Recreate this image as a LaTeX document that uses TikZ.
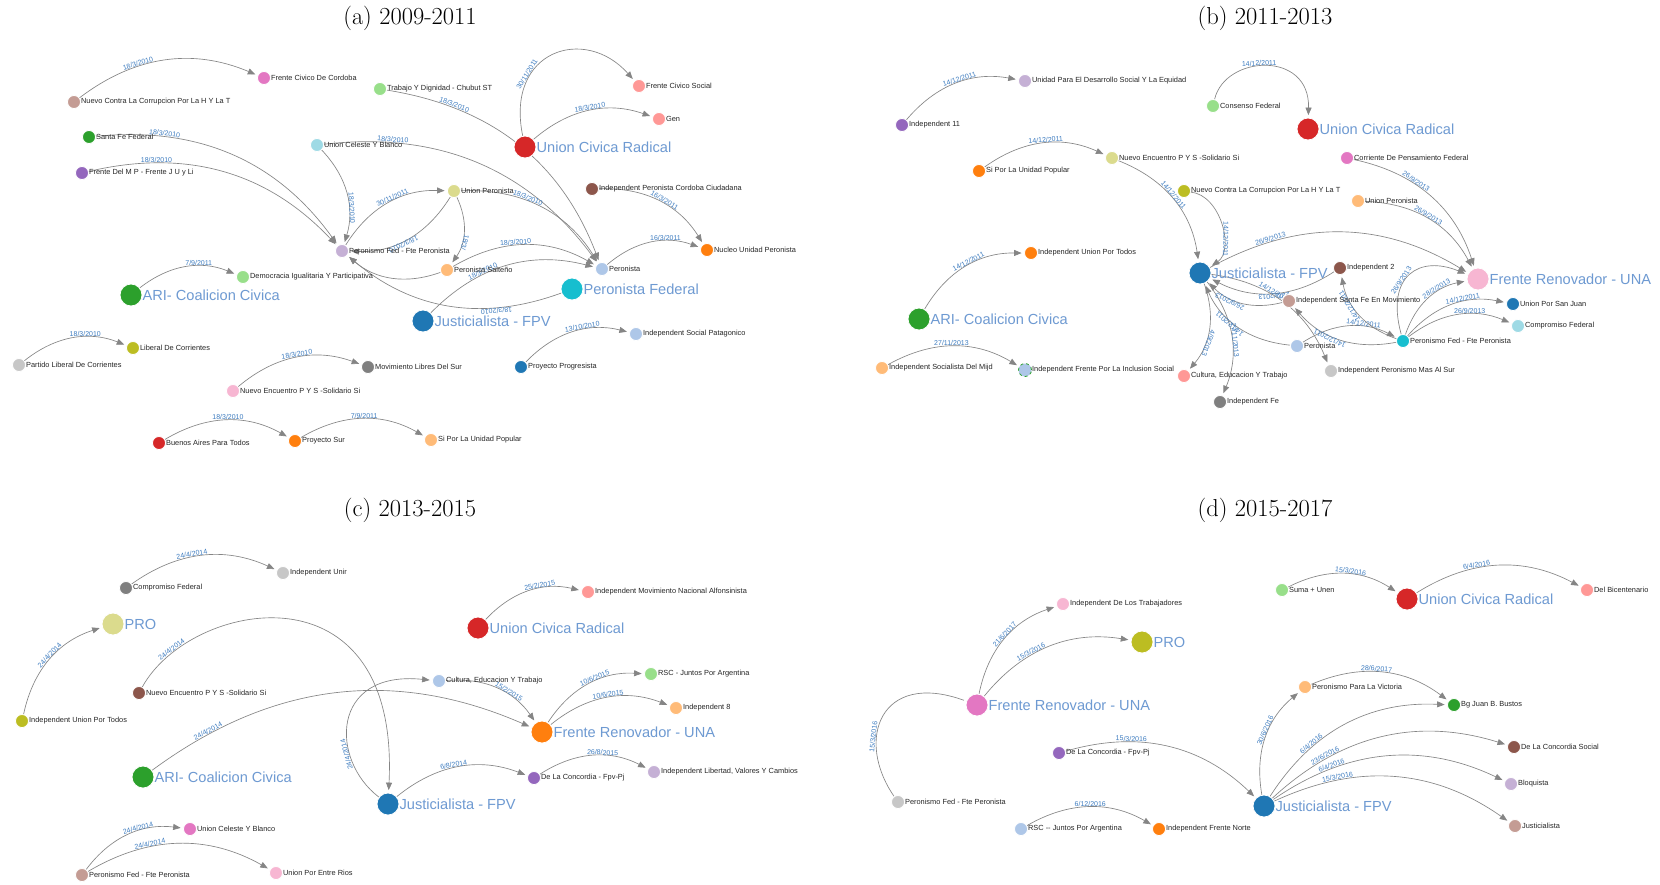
\documentclass[tikz,border=0pt]{standalone}
\usepackage{fontspec}
\newfontfamily\arial{Liberation Sans}
\usetikzlibrary{arrows.meta,calc}
\definecolor{c1}{HTML}{1F77B4}\definecolor{c2}{HTML}{AEC7E8}
\definecolor{c3}{HTML}{FF7F0E}\definecolor{c4}{HTML}{FFBB78}
\definecolor{c5}{HTML}{2CA02C}\definecolor{c6}{HTML}{98DF8A}
\definecolor{c7}{HTML}{D62728}\definecolor{c8}{HTML}{FF9896}
\definecolor{c9}{HTML}{9467BD}\definecolor{c10}{HTML}{C5B0D5}
\definecolor{c11}{HTML}{8C564B}\definecolor{c12}{HTML}{C49C94}
\definecolor{c13}{HTML}{E377C2}\definecolor{c14}{HTML}{F7B6D2}
\definecolor{c15}{HTML}{7F7F7F}\definecolor{c16}{HTML}{C7C7C7}
\definecolor{c17}{HTML}{BCBD22}\definecolor{c18}{HTML}{DBDB8D}
\definecolor{c19}{HTML}{17BECF}\definecolor{c20}{HTML}{9EDAE5}
\definecolor{bigtxt}{HTML}{6E9AD2}
\definecolor{datecol}{HTML}{3D7CC0}
\pgfdeclarelayer{back}
\pgfdeclarelayer{bgl}
\pgfsetlayers{back,bgl,main}
\tikzset{
  nd/.style={circle,fill=#1,draw=white,line width=0.8pt,minimum size=13pt,inner sep=0pt,label distance=2.5pt},
  bg/.style={circle,fill=#1,draw=white,line width=0.8pt,minimum size=22pt,inner sep=0pt,label distance=6pt},
  nlab/.style={font=\arial\fontsize{7.4}{8}\selectfont,text=black!85,inner sep=0pt},
  blab/.style={font=\arial\fontsize{14.6}{16}\selectfont,text=bigtxt,inner sep=0pt},
  lnk/.style={draw=black!48,line width=0.65pt,-{Triangle[length=7.5pt,width=6pt]},shorten >=2.5pt},
  elbl/.style={font=\arial\fontsize{7}{8}\selectfont,text=datecol,sloped,allow upside down,anchor=south,inner sep=0.3pt},
  ttl/.style={font=\fontsize{24.5}{28}\selectfont}
}
\newcommand\N[4]{\node[nd=#2,label={[nlab]0:{#4}}] (#1) at (#3) {};}
\newcommand\B[4]{\node[bg=#2,label={[blab]0:{#4}}] (#1) at (#3) {};}
\newcommand\E[4][bend left=30]{\path[lnk] let \p1=(#2.center),\p2=(#3.center),\n1={veclen(\x2-\x1,\y2-\y1)} in (#2) to[#1] node[elbl,pos={min(0.65,64/(1.047*\n1-17))}]{#4} (#3);}
\newcommand\EC[7][]{\path[lnk,#1] (#2) .. controls (#3) and (#4) .. (#5) node[elbl,pos=#7]{#6};}
\begin{document}
\begin{tikzpicture}[x=1pt,y=1pt]
\useasboundingbox (0,0) rectangle (1660,-884);
\begin{pgfonlayer}{back}
\fill[white] (0,0) rectangle (1660,-884);
\end{pgfonlayer}
% titles
\node[ttl] (ta) at (410,-18) {(a) 2009-2011};
\node[ttl] (tb) at (1265,-18) {(b) 2011-2013};
\node[ttl] (tc) at (410,-510) {(c) 2013-2015};
\node[ttl] (td) at (1265,-510) {(d) 2015-2017};
% ---------------- (a)
\N{aFCC}{c13}{264,-78}{Frente Civico De Cordoba}
\N{aNC}{c12}{74,-102}{Nuevo Contra La Corrupcion Por La H Y La T}
\N{aTrab}{c6}{380,-89}{Trabajo Y Dignidad - Chubut ST}
\N{aSFF}{c5}{89,-137}{Santa Fe Federal}
\N{aFMP}{c9}{82,-173}{Frente Del M P - Frente J U y Li}
\N{aUCB}{c20}{317,-145}{Union Celeste Y Blanco}
\N{aPF}{c10}{342,-251}{Peronismo Fed - Fte Peronista}
\N{aFCS}{c8}{639,-86}{Frente Civico Social}
\N{aGen}{c8}{659,-119}{Gen}
\B{aUCR}{c7}{525,-147}{Union Civica Radical}
\N{aUP}{c18}{454,-191}{Union Peronista}
\N{aIPC}{c11}{592,-189}{Independent Peronista Cordoba Ciudadana}
\N{aNuc}{c3}{707,-250}{Nucleo Unidad Peronista}
\N{aPer}{c2}{602,-269}{Peronista}
\N{aDem}{c6}{243,-277}{Democracia Igualitaria Y Participativa}
\B{aARI}{c5}{131,-295}{ARI- Coalicion Civica}
\N{aLC}{c17}{133,-348}{Liberal De Corrientes}
\N{aPLC}{c16}{19,-365}{Partido Liberal De Corrientes}
\N{aMLS}{c15}{368,-367}{Movimiento Libres Del Sur}
\N{aNE}{c14}{233,-391}{Nuevo Encuentro P Y S -Solidario Si}
\N{aBA}{c7}{159,-443}{Buenos Aires Para Todos}
\N{aPS}{c3}{295,-441}{Proyecto Sur}
\N{aPSal}{c4}{447,-270}{Peronista Salteño}
\B{aPFed}{c19}{572,-289}{Peronista Federal}
\B{aJ}{c1}{423,-321}{Justicialista - FPV}
\N{aISP}{c2}{636,-334}{Independent Social Patagonico}
\N{aPP}{c1}{521,-367}{Proyecto Progresista}
\N{aSi}{c4}{431,-440}{Si Por La Unidad Popular}
% ---------------- (b)
\N{bUni}{c10}{1025,-81}{Unidad Para El Desarrollo Social Y La Equidad}
\N{bI11}{c9}{902,-125}{Independent 11}
\N{bCons}{c6}{1213,-106}{Consenso Federal}
\N{bSi}{c3}{979,-171}{Si Por La Unidad Popular}
\N{bNE}{c18}{1112,-158}{Nuevo Encuentro P Y S -Solidario Si}
\N{bNC}{c17}{1184,-191}{Nuevo Contra La Corrupcion Por La H Y La T}
\N{bIUT}{c3}{1031,-253}{Independent Union Por Todos}
\B{bJ}{c1}{1200,-273}{Justicialista - FPV}
\B{bUCR}{c7}{1308,-129}{Union Civica Radical}
\N{bCPF}{c13}{1347,-158}{Corriente De Pensamiento Federal}
\N{bUP}{c4}{1358,-201}{Union Peronista}
\B{bARI}{c5}{919,-319}{ARI- Coalicion Civica}
\N{bISM}{c4}{882,-368}{Independent Socialista Del Mijd}
\node[nd=c2,draw=c5,dashed,label={[nlab]0:{Independent Frente Por La Inclusion Social}}] (bIFI) at (1025,-370) {};
\N{bCul}{c8}{1184,-376}{Cultura, Educacion Y Trabajo}
\N{bFe}{c15}{1220,-402}{Independent Fe}
\B{bFR}{c14}{1478,-279}{Frente Renovador - UNA}
\N{bI2}{c11}{1340,-268}{Independent 2}
\N{bISF}{c12}{1289,-301}{Independent Santa Fe En Movimiento}
\N{bUSJ}{c1}{1513,-304}{Union Por San Juan}
\N{bCF}{c20}{1518,-326}{Compromiso Federal}
\N{bPer}{c2}{1297,-346}{Peronista}
\N{bPF}{c19}{1403,-341}{Peronismo Fed - Fte Peronista}
\N{bMAS}{c16}{1331,-371}{Independent Peronismo Mas Al Sur}
% ---------------- (c)
\N{cIU}{c16}{283,-573}{Independent Unir}
\N{cCF}{c15}{126,-588}{Compromiso Federal}
\B{cPRO}{c18}{113,-624}{PRO}
\N{cNE}{c11}{139,-693}{Nuevo Encuentro P Y S -Solidario Si}
\N{cIUT}{c17}{22,-721}{Independent Union Por Todos}
\B{cARI}{c5}{143,-777}{ARI- Coalicion Civica}
\B{cJ}{c1}{388,-804}{Justicialista - FPV}
\N{cUCB}{c13}{190,-829}{Union Celeste Y Blanco}
\N{cPF}{c12}{82,-875}{Peronismo Fed - Fte Peronista}
\N{cUER}{c14}{276,-873}{Union Por Entre Rios}
\B{cUCR}{c7}{478,-628}{Union Civica Radical}
\N{cIMNA}{c8}{588,-592}{Independent Movimiento Nacional Alfonsinista}
\N{cCul}{c2}{439,-681}{Cultura, Educacion Y Trabajo}
\N{cRSC}{c6}{651,-674}{RSC - Juntos Por Argentina}
\N{cI8}{c4}{676,-708}{Independent 8}
\B{cFR}{c3}{542,-732}{Frente Renovador - UNA}
\N{cCon}{c9}{534,-778}{De La Concordia - Fpv-Pj}
\N{cIL}{c10}{654,-772}{Independent Libertad, Valores Y Cambios}
% ---------------- (d)
\N{dIT}{c14}{1063,-604}{Independent De Los Trabajadores}
\B{dPRO}{c17}{1142,-642}{PRO}
\B{dFR}{c13}{977,-705}{Frente Renovador - UNA}
\N{dCon}{c9}{1059,-753}{De La Concordia - Fpv-Pj}
\N{dPF}{c16}{898,-802}{Peronismo Fed - Fte Peronista}
\N{dRSC}{c2}{1021,-829}{RSC -- Juntos Por Argentina}
\N{dIFN}{c3}{1159,-829}{Independent Frente Norte}
\N{dSuma}{c6}{1282,-590}{Suma + Unen}
\B{dUCR}{c7}{1407,-599}{Union Civica Radical}
\N{dDB}{c8}{1587,-590}{Del Bicentenario}
\N{dPPV}{c4}{1305,-687}{Peronismo Para La Victoria}
\N{dBg}{c5}{1454,-705}{Bg Juan B. Bustos}
\N{dCS}{c11}{1514,-747}{De La Concordia Social}
\N{dBlo}{c10}{1511,-784}{Bloquista}
\B{dJ}{c1}{1264,-806}{Justicialista - FPV}
\N{dJs}{c12}{1515,-826}{Justicialista}
% ================= edges
\begin{pgfonlayer}{bgl}
% (a)
\E{aNC}{aFCC}{18/3/2010}
\EC{aUCR}{505,-50}{585,-25}{aFCS}{30/11/2011}{0.3}
\E{aUCR}{aGen}{18/3/2010}
\E{aTrab}{aPer}{18/3/2010}
\E{aSFF}{aPF}{18/3/2010}
\E{aFMP}{aPF}{18/3/2010}
\E{aUCB}{aPF}{18/3/2010}
\E{aUCB}{aPer}{18/3/2010}
\E{aPF}{aUP}{30/11/2011}
\E{aUP}{aPF}{18/3/2010}
\E{aUP}{aPSal}{18/3/}
\E{aPSal}{aPF}{}
\E{aPSal}{aPer}{18/3/2010}
\E{aJ}{aPer}{18/3/2010}
\E{aPFed}{aPF}{18/3/2010}
\E{aUP}{aPer}{18/3/2010}
\E{aIPC}{aNuc}{16/3/2011}
\E{aPer}{aNuc}{16/3/2011}
\E{aARI}{aDem}{7/9/2011}
\E{aPLC}{aLC}{18/3/2010}
\E{aNE}{aMLS}{18/3/2010}
\E{aBA}{aPS}{18/3/2010}
\E{aPS}{aSi}{7/9/2011}
\E{aPP}{aISP}{13/10/2010}
% (b)
\E{bI11}{bUni}{14/12/2011}
\EC{bCons}{1225,-55}{1310,-50}{bUCR}{14/12/2011}{0.45}
\E{bSi}{bNE}{14/12/2011}
\E{bNE}{bJ}{14/12/2011}
\E[bend left=70]{bNC}{bJ}{14/12/2011}
\E{bARI}{bIUT}{14/12/2011}
\E{bISM}{bIFI}{27/11/2013}
\E{bJ}{bCul}{4/9/2013}
\E{bJ}{bFe}{27/11/2013}
\E{bJ}{bFR}{26/9/2013}
\E{bCPF}{bFR}{26/9/2013}
\E{bUP}{bFR}{26/9/2013}
\EC{bPF}{1385,-275}{1420,-255}{bFR}{26/9/2013}{0.4}
\E{bPF}{bFR}{28/2/2013}
\E{bPF}{bUSJ}{14/12/2011}
\E{bPF}{bCF}{26/9/2013}
\E{bPer}{bPF}{14/12/2011}
\E{bPF}{bI2}{14/12/2011}
\E{bPF}{bISF}{14/12/2011}
\E{bISF}{bJ}{26/9/2013}
\E{bI2}{bJ}{22/2/2013}
\E{bPer}{bJ}{14/12/2011}
\E{bJ}{bMAS}{14/12/2011}
% (c)
\E{cCF}{cIU}{24/4/2014}
\E{cIUT}{cPRO}{24/4/2014}
\EC{cNE}{190,-600}{400,-560}{cJ}{24/4/2014}{0.15}
\E{cARI}{cFR}{24/4/2014}
\EC{cJ}{330,-760}{330,-670}{cCul}{24/4/2014}{0.3}
\E{cCul}{cFR}{15/2/2015}
\E{cFR}{cRSC}{10/6/2015}
\E{cFR}{cI8}{10/6/2015}
\E{cJ}{cCon}{6/8/2014}
\E{cCon}{cIL}{26/8/2015}
\E{cUCR}{cIMNA}{25/2/2015}
\E{cPF}{cUCB}{24/4/2014}
\E{cPF}{cUER}{24/4/2014}
% (d)
\E{dFR}{dIT}{21/6/2017}
\E{dFR}{dPRO}{15/3/2016}
\EC[-]{dPF}{855,-740}{880,-670}{dFR}{15/3/2016}{0.35}
\E{dCon}{dJ}{15/3/2016}
\E{dRSC}{dIFN}{6/12/2016}
\E{dSuma}{dUCR}{15/3/2016}
\E{dUCR}{dDB}{6/4/2016}
\E{dJ}{dPPV}{30/6/2016}
\E{dPPV}{dBg}{28/6/2017}
\E{dJ}{dBg}{6/4/2016}
\E{dJ}{dCS}{23/6/2016}
\E{dJ}{dBlo}{6/4/2016}
\E{dJ}{dJs}{15/3/2016}
\end{pgfonlayer}
\end{tikzpicture}
\end{document}
